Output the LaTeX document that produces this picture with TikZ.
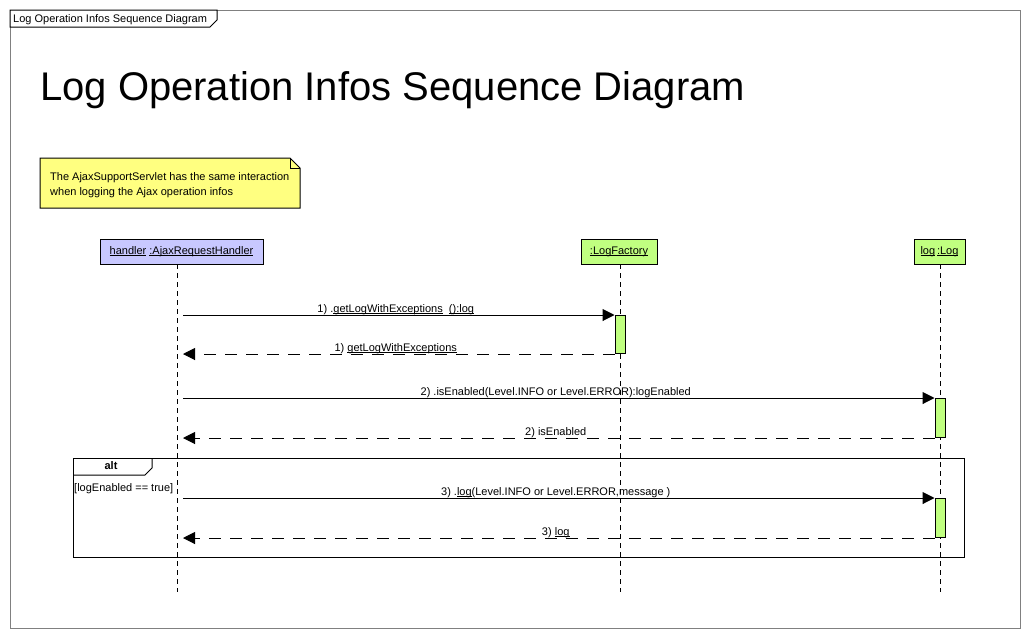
\documentclass[tikz,border=0pt]{standalone}
\usepackage{fontspec}
\setmainfont{Liberation Sans}
\usetikzlibrary{arrows.meta,positioning}

\definecolor{headblue}{RGB}{200,200,255}
\definecolor{headgreen}{RGB}{192,255,128}
\definecolor{noteyellow}{RGB}{255,255,128}
\definecolor{framegray}{RGB}{128,128,128}

% underline at a fixed depth
\newcommand\ulin[1]{\setbox0\hbox{#1}\rlap{\rule[-1.8pt]{\wd0}{0.8pt}}\box0\relax}

\tikzset{
  small/.style={font=\fontsize{11}{13}\selectfont},
  lifehead/.style={draw, line width=1pt, minimum height=25pt, inner sep=0pt, small},
  actbar/.style={draw, fill=headgreen, line width=1pt, minimum width=10pt, inner sep=0pt},
  lifeline/.style={line width=0.9pt, dash pattern=on 5pt off 4pt},
  msg/.style={line width=1pt, shorten <=6pt, -{Triangle[length=12pt,width=12pt]}},
  reply/.style={line width=1pt, shorten >=6pt, dash pattern=on 12pt off 9pt, -{Triangle[length=12pt,width=12pt]}},
  msglabel/.style={anchor=base, inner sep=0pt, yshift=3pt, small},
}

\begin{document}
\begin{tikzpicture}[x=1pt, y=-1pt]
    \useasboundingbox (0,0) rectangle (1030,638);

    % frame
    \draw[framegray, line width=1pt] (10,10) rectangle (1020,628);
    \draw[line width=1pt, fill=white] (10,10) -- (217,10) -- (217,20) -- (210,27) -- (10,27) -- cycle;
    \node[small, anchor=base west, inner sep=0pt] (frametitle) at (13,22) {Log Operation Infos Sequence Diagram};

    \node[anchor=base west, inner sep=0pt, font=\fontsize{40}{48}\selectfont] (title) at (40,100) {Log Operation Infos Sequence Diagram};

    % note
    \draw[line width=1pt, fill=noteyellow] (40,158) -- (290,158) -- (300,168) -- (300,208) -- (40,208) -- cycle;
    \draw[line width=1pt] (290,158) -- (290,168) -- (300,168);
    \node[small, anchor=west, align=left, inner sep=0pt, font=\fontsize{11}{15}\selectfont] (note) at (50,185.5)
        {The AjaxSupportServlet has the same interaction\\when logging the Ajax operation infos};

    % lifeline heads
    \node[lifehead, fill=headblue, minimum width=163pt] (handler) at (181.5,251.5)
        {\ulin{handler} \ulin{:AjaxRequestHandler}};
    \node[lifehead, fill=headgreen, minimum width=76pt] (factory) at (619,251.5) {\ulin{:LogFactory}};
    \node[lifehead, fill=headgreen, minimum width=51pt] (logger) at (939.5,251.5) {\ulin{log}\,\ulin{:Log}};

    \coordinate (hTop) at (177,264);  \coordinate (hEnd) at (177,592);
    \coordinate (fTop) at (620,264);  \coordinate (fEnd) at (620,592);
    \coordinate (lTop) at (940,264);  \coordinate (lEnd) at (940,592);
    \draw[lifeline] (hTop) -- (hEnd);
    \draw[lifeline] (fTop) -- (fEnd);
    \draw[lifeline] (lTop) -- (lEnd);

    % alt fragment
    \draw[line width=1pt] (73,458) rectangle (964,557);
    \draw[line width=1pt] (73,475) -- (145,475) -- (152,468) -- (152,458);
    \node[small, font=\fontsize{11}{13}\bfseries] (altlabel) at (111,466) {alt};
    \node[small, anchor=west, inner sep=0pt] (guard) at (74,489) {[logEnabled == true]};

    % activations
    \node[actbar, minimum height=38pt] (act1) at (620,334.5) {};
    \node[actbar, minimum height=39pt] (act2) at (940,418) {};
    \node[actbar, minimum height=39pt] (act3) at (940,518) {};

    % messages
    \draw[msg] (act1.north west -| hTop) -- (act1.north west)
        node[msglabel, midway] {1) .\ulin{getLogWithExceptions}\ \ \ulin{():log}};
    \draw[reply] (act1.south west) -- (act1.south west -| hTop)
        node[msglabel, midway] {1) \ulin{getLogWithExceptions}};

    \draw[msg] (act2.north west -| hTop) -- (act2.north west)
        node[msglabel, midway] {2) .isEnabled(Level.INFO or Level.ERROR):logEnabled};
    \draw[reply] (act2.south west) -- (act2.south west -| hTop)
        node[msglabel, midway] {2) isEnabled};

    \draw[msg] (act3.north west -| hTop) -- (act3.north west)
        node[msglabel, midway] {3) .\ulin{log}(Level.INFO or Level.ERROR,message )};
    \draw[reply] (act3.south west) -- (act3.south west -| hTop)
        node[msglabel, midway] {3) \ulin{log}};
\end{tikzpicture}
\end{document}
